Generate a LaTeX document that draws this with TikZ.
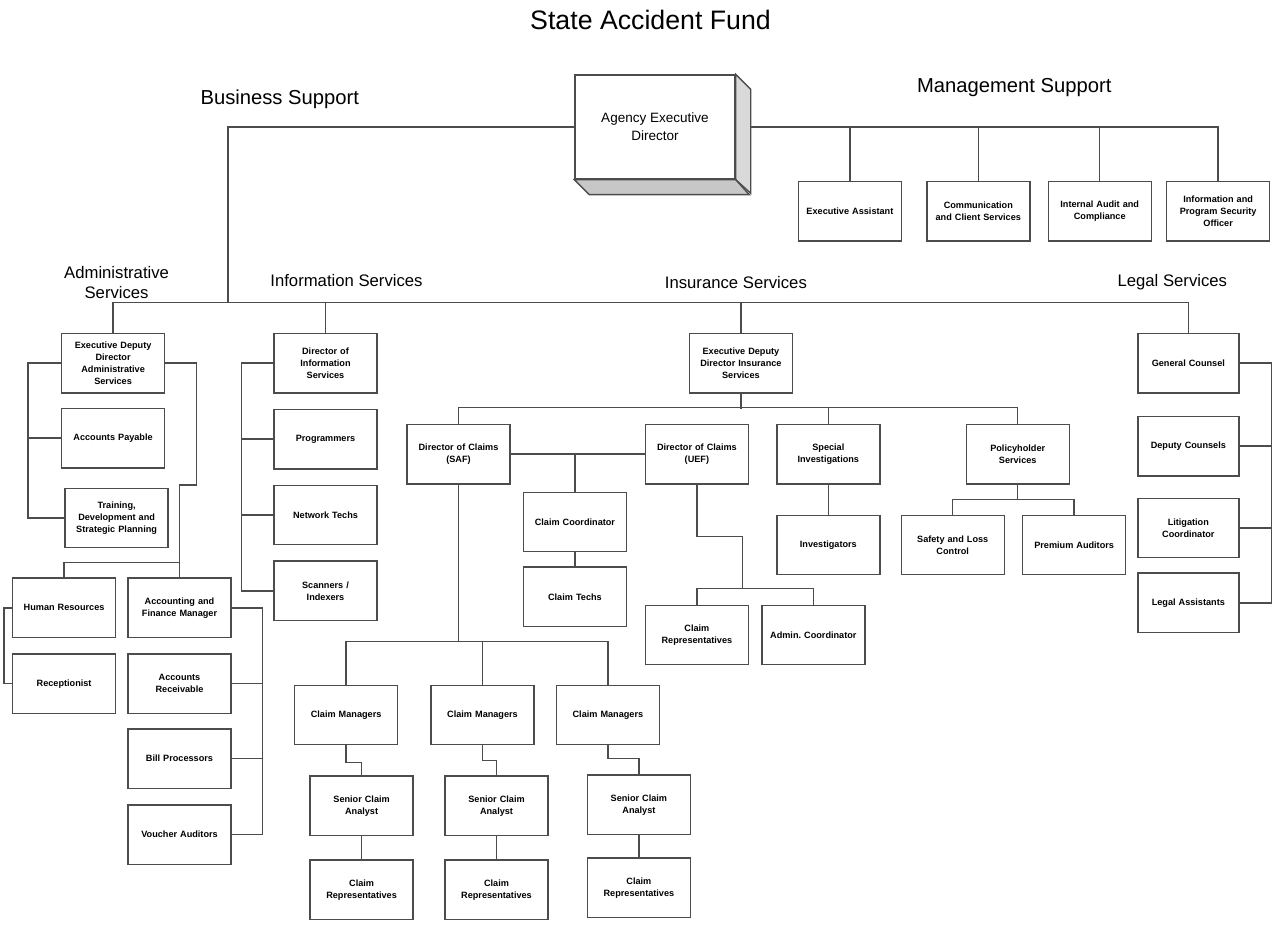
\documentclass[tikz,border=0pt]{standalone}
\usepackage{fontspec}
\setmainfont{Liberation Sans}
\usetikzlibrary{positioning}

\begin{document}
\begin{tikzpicture}[
        link/.style={draw=black!70, line width=0.8pt},
        unitbox/.style={draw=black!70, line width=0.8pt, text width=18.8mm, inner sep=0.9mm,
            minimum height=11.9mm, align=center, font=\fontsize{5.2}{6.8}\selectfont\bfseries},
        legalbox/.style={unitbox, text width=18.4mm},
        topbox/.style={draw=black!70, line width=0.8pt, minimum width=32mm, minimum height=20.8mm,
            align=center, font=\fontsize{7.7}{10.2}\selectfont},
        headline/.style={inner sep=0pt, font=\fontsize{15.2}{18}\selectfont},
        grouplabel/.style={inner sep=0pt, font=\fontsize{11.5}{13}\selectfont},
        sectlabel/.style={inner sep=0pt, align=center, font=\fontsize{9.5}{11.4}\selectfont},
    ]
    \useasboundingbox (0,0) rectangle (255mm,-184.8mm);

    \node [topbox] (aed) at (131mm,-25.4mm) {Agency Executive\\Director};
    \node [headline, above=8.9mm of aed, xshift=-0.9mm] (headline) {State Accident Fund};
    \node [grouplabel, left=43mm of aed.west, yshift=5.6mm] (bizlabel) {Business Support};
    \node [grouplabel, right=36.2mm of aed.east, yshift=7.8mm] (mgmtlabel) {Management Support};

    \node [unitbox, below right=0.2mm and 12.4mm of aed] (ea) {Executive Assistant};
    \node [unitbox, right=4.8mm of ea] (ccs) {Communication\\and Client Services};
    \node [unitbox, right=3.4mm of ccs] (iac) {Internal Audit and\\Compliance};
    \node [unitbox, right=2.8mm of iac] (ipso) {Information and\\Program Security\\Officer};

    \node [unitbox, below left=30.6mm and 81.8mm of aed] (edda) {Executive Deputy\\Director\\Administrative\\Services};
    \node [unitbox, below=2.8mm of edda] (ap) {Accounts Payable};
    \node [unitbox, below=3.8mm of ap, xshift=0.7mm] (tdsp) {Training,\\Development and\\Strategic Planning};
    \node [unitbox, below=5.8mm of tdsp, xshift=-10.5mm] (hr) {Human Resources};
    \node [unitbox, right=2.2mm of hr] (afm) {Accounting and\\Finance Manager};
    \node [unitbox, below=3mm of hr] (rec) {Receptionist};
    \node [unitbox, below=3mm of afm] (ar) {Accounts\\Receivable};
    \node [unitbox, below=2.8mm of ar] (bp) {Bill Processors};
    \node [unitbox, below=3mm of bp] (va) {Voucher Auditors};

    \node [unitbox, right=21.6mm of edda] (dis) {Director of\\Information\\Services};
    \node [unitbox, below=3mm of dis] (prg) {Programmers};
    \node [unitbox, below=3mm of prg] (nt) {Network Techs};
    \node [unitbox, below=3mm of nt] (sci) {Scanners /\\Indexers};

    \node [unitbox, right=62.2mm of dis] (eddi) {Executive Deputy\\Director Insurance\\Services};
    \node [unitbox, below left=6mm and 35.6mm of eddi] (saf) {Director of Claims\\(SAF)};
    \node [unitbox, right=26.8mm of saf] (uef) {Director of Claims\\(UEF)};
    \node [unitbox, below right=1.4mm and 2.4mm of saf] (cc) {Claim Coordinator};
    \node [unitbox, below=2.8mm of cc] (ct) {Claim Techs};
    \node [unitbox, below=24mm of uef] (cru) {Claim\\Representatives};
    \node [unitbox, right=2.4mm of cru] (adm) {Admin.\ Coordinator};
    \node [unitbox, right=5.4mm of uef] (spi) {Special\\Investigations};
    \node [unitbox, below=6mm of spi] (inv) {Investigators};
    \node [unitbox, right=17mm of spi] (phs) {Policyholder\\Services};
    \node [unitbox, below=6mm of phs, xshift=-13mm] (slc) {Safety and Loss\\Control};
    \node [unitbox, right=3.4mm of slc] (pa) {Premium Auditors};

    \node [unitbox, below left=40mm and 1.6mm of saf] (cm1) {Claim Managers};
    \node [unitbox, right=6.4mm of cm1] (cm2) {Claim Managers};
    \node [unitbox, right=4.2mm of cm2] (cm3) {Claim Managers};
    \node [unitbox, below=6mm of cm1, xshift=3.1mm] (sca1) {Senior Claim\\Analyst};
    \node [unitbox, below=6mm of cm2, xshift=2.8mm] (sca2) {Senior Claim\\Analyst};
    \node [unitbox, below=5.8mm of cm3, xshift=6.2mm] (sca3) {Senior Claim\\Analyst};
    \node [unitbox, below=4.6mm of sca1] (cr1) {Claim\\Representatives};
    \node [unitbox, below=4.6mm of sca2] (cr2) {Claim\\Representatives};
    \node [unitbox, below=4.4mm of sca3] (cr3) {Claim\\Representatives};

    \node [legalbox, right=68.8mm of eddi] (gc) {General Counsel};
    \node [legalbox, below=4.4mm of gc] (dc) {Deputy Counsels};
    \node [legalbox, below=4.2mm of dc] (lc) {Litigation\\Coordinator};
    \node [legalbox, below=2.8mm of lc] (la) {Legal Assistants};

    \node [sectlabel, above=6.8mm of edda, xshift=0.7mm] (adminlabel) {Administrative\\Services};
    \node [sectlabel, above=9.2mm of dis, xshift=4.2mm] (infolabel) {Information Services};
    \node [sectlabel, above=8.8mm of eddi, xshift=-1mm] (inslabel) {Insurance Services};
    \node [sectlabel, above=8.4mm of gc, xshift=-3.2mm] (legallabel) {Legal Services};

    \coordinate [above right=6mm and 23mm of edda.north] (bus);

    \draw [link] (aed.west) -| (bus);
    \draw [link] (aed.east) -| (ipso.north);
    \draw [link] (ea.north) -- (ea.north |- aed.east);
    \draw [link] (ccs.north) -- (ccs.north |- aed.east);
    \draw [link] (iac.north) -- (iac.north |- aed.east);

    \draw [link] (edda.north) -- ++(0,6mm) -| (gc.north);
    \draw [link] (dis.north) -- ++(0,6mm);
    \draw [link] (eddi.north) -- ++(0,6mm);

    \draw [link] (edda.west) -- ++(-6.6mm,0) |- (tdsp.west);
    \draw [link] (ap.west) -- ++(-6.6mm,0);
    \draw [link] (edda.east) -- ++(6.2mm,0) -- ++(0,-24.4mm) -| (afm.north);
    \draw [link] (hr.north) -- ++(0,3mm) -| (afm.north);
    \draw [link] (hr.west) -- ++(-1.6mm,0) |- (rec.west);
    \draw [link] (afm.east) -- ++(6.2mm,0) |- (va.east);
    \draw [link] (ar.east) -- ++(6.2mm,0);
    \draw [link] (bp.east) -- ++(6.2mm,0);

    \draw [link] (dis.west) -- ++(-6.4mm,0) |- (sci.west);
    \draw [link] (prg.west) -- ++(-6.4mm,0);
    \draw [link] (nt.west) -- ++(-6.4mm,0);

    \draw [link] (eddi.south) -- ++(0,-3mm);
    \draw [link] (saf.north) -- ++(0,3.2mm) -| (phs.north);
    \draw [link] (spi.north) -- ++(0,3.2mm);
    \draw [link] (saf.east) -- (uef.west);
    \draw [link] (cc.north) -- (cc.north |- saf.east);
    \draw [link] (cc.south) -- (ct.north);
    \draw [link] (uef.south) -- ++(0,-10.4mm) -- ++(9.1mm,0) -- ++(0,-10.4mm);
    \draw [link] (cru.north) -- ++(0,3.2mm) -| (adm.north);
    \draw [link] (spi.south) -- (inv.north);
    \draw [link] (phs.south) -- ++(0,-3mm);
    \draw [link] (slc.north) -- ++(0,3mm) -| (pa.north);

    \draw [link] (saf.south) -- ++(0,-31.4mm);
    \draw [link] (cm1.north) -- ++(0,8.6mm) -| (cm3.north);
    \draw [link] (cm2.north) -- ++(0,8.6mm);
    \draw [link] (cm1.south) -- ++(0,-3.4mm) -| (sca1.north);
    \draw [link] (cm2.south) -- ++(0,-3mm) -| (sca2.north);
    \draw [link] (cm3.south) -- ++(0,-2.6mm) -| (sca3.north);
    \draw [link] (sca1.south) -- (cr1.north);
    \draw [link] (sca2.south) -- (cr2.north);
    \draw [link] (sca3.south) -- (cr3.north);

    \draw [link] (gc.east) -- ++(6.4mm,0) |- (la.east);
    \draw [link] (dc.east) -- ++(6.4mm,0);
    \draw [link] (lc.east) -- ++(6.4mm,0);

    \filldraw [link, fill=black!15] (aed.north east) -- ++(3mm,-3mm) -- ++(0,-20.8mm) -- (aed.south east) -- cycle;
    \filldraw [link, fill=black!22] (aed.south west) -- ++(3mm,-3mm) -- ++(32mm,0) -- (aed.south east) -- cycle;
\end{tikzpicture}
\end{document}
